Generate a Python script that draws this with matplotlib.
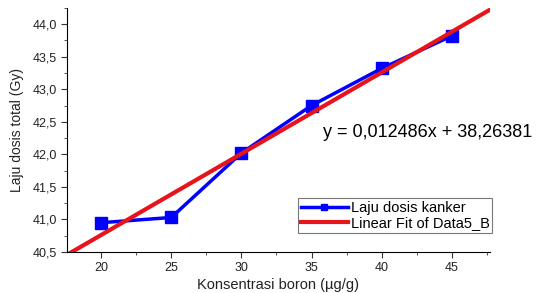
import matplotlib
matplotlib.use("Agg")
import matplotlib.pyplot as plt
import numpy as np
from matplotlib.ticker import MultipleLocator, FuncFormatter

x = [20, 25, 30, 35, 40, 45]
y = [40.95, 41.03, 42.02, 42.75, 43.32, 43.82]
slope = 0.12486
intercept = 38.26381
eq_text = "y = 0,012486x + 38,26381"

plt.rcParams['font.family'] = ['Liberation Sans', 'DejaVu Sans']
fig = plt.figure(figsize=(5.52, 2.93), dpi=100)
ax = fig.add_axes([0.121, 0.14, 0.766, 0.833])

xf = np.linspace(17.5, 47.7, 50)
ax.plot(xf, slope * xf + intercept, color='#e8141c', lw=3, label='Linear Fit of Data5_B', zorder=3)
ax.plot(x, y, color='#0000ff', lw=2.5, marker='s', ms=8, mec='#0000ff', label='Laju dosis kanker', zorder=2)

ax.set_xlim(17.55, 47.7)
ax.set_ylim(40.5, 44.25)
ax.xaxis.set_major_locator(MultipleLocator(5))
ax.xaxis.set_minor_locator(MultipleLocator(2.5))
ax.yaxis.set_major_locator(MultipleLocator(0.5))
ax.yaxis.set_minor_locator(MultipleLocator(0.25))
ax.yaxis.set_major_formatter(FuncFormatter(lambda v, p: f"{v:.1f}".replace('.', ',')))
for s in ['top', 'right']:
    ax.spines[s].set_visible(False)
ax.tick_params(which='major', direction='out', length=4, labelsize=9, color='#333333',
               labelcolor='#222222', pad=3)
ax.tick_params(which='minor', direction='out', length=2.5, color='#333333')
ax.set_xlabel('Konsentrasi boron (µg/g)', fontsize=10.5, labelpad=3, color='#222222')
ax.set_ylabel('Laju dosis total (Gy)', fontsize=10, labelpad=6, color='#222222')

ax.text(0.605, 0.49, eq_text, transform=ax.transAxes, fontsize=13, ha='left', va='center')

handles, labels = ax.get_legend_handles_labels()
leg = ax.legend(handles[::-1], labels[::-1], loc='lower left', bbox_to_anchor=(0.547, 0.078),
                fontsize=10.5, frameon=True, fancybox=False, edgecolor='#555555',
                handlelength=3.2, borderpad=0.2, labelspacing=0.05, handletextpad=0.2,
                borderaxespad=0, markerscale=0.6)
leg.get_frame().set_linewidth(0.8)

fig.savefig('out.png', dpi=100)
